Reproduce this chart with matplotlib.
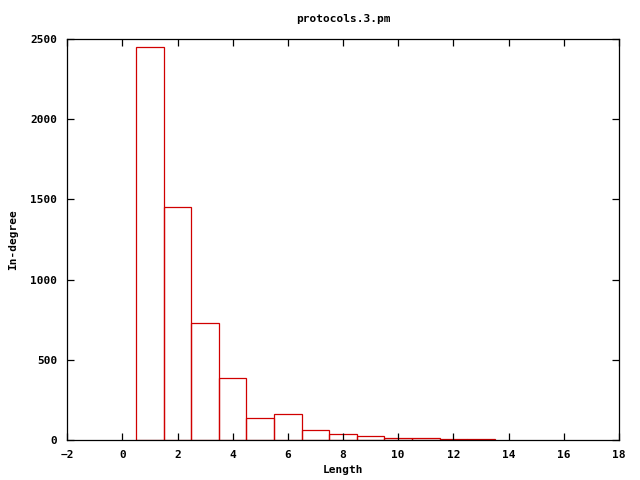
import matplotlib
matplotlib.use('Agg')
import matplotlib.pyplot as plt

# histogram data
lengths = [1, 2, 3, 4, 5, 6, 7, 8, 9, 10, 11, 12, 13]
in_degree = [2450, 1452, 728, 387, 137, 162, 62, 37, 25, 13, 12, 7, 6]

x_ticks = list(range(-2, 19, 2))
y_ticks = [0, 500, 1000, 1500, 2000, 2500]

plt.rcParams['font.family'] = 'DejaVu Sans Mono'
plt.rcParams['font.weight'] = 'bold'
plt.rcParams['font.size'] = 8

fig = plt.figure(figsize=(6.4, 4.8), dpi=100)
ax = fig.add_axes([0.105, 0.0833, 0.862, 0.8354])

ax.bar(lengths, in_degree, width=1.0, fill=False, edgecolor='#d00000', linewidth=0.9)

ax.set_xlim(-2, 18)
ax.set_ylim(0, 2500)
ax.set_xticks(x_ticks)
ax.set_yticks(y_ticks)
ax.tick_params(direction='in', top=True, right=True, length=5, width=0.9, pad=7)
for s in ax.spines.values():
    s.set_linewidth(0.9)

ax.set_title('protocols.3.pm', fontsize=8, fontweight='bold', pad=12)
ax.set_xlabel('Length', fontweight='bold', labelpad=4)
ax.set_ylabel('In-degree', fontweight='bold', labelpad=9)

fig.savefig('out.png', dpi=100)
